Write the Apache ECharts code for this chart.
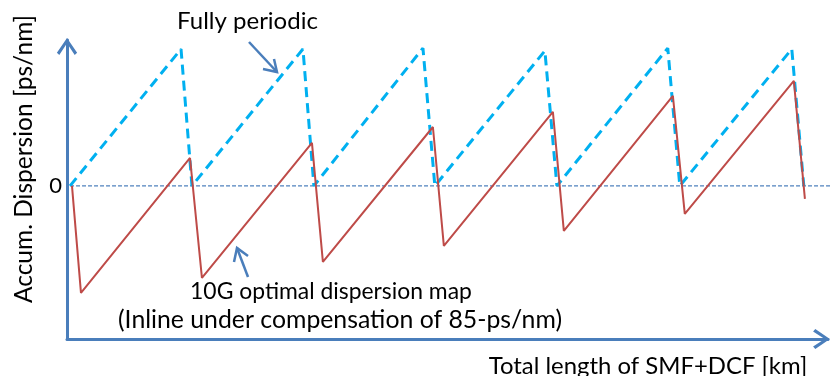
<!DOCTYPE html>
<html><head><meta charset="utf-8">
<script src="https://cdn.jsdelivr.net/npm/echarts@6/dist/echarts.min.js"></script>
<style>html,body{margin:0;padding:0;background:#fff}#c{width:834px;height:376px}</style>
</head><body><div id="c"></div>
<script>
// Fully periodic map (blue dashed): x in km, y in ps/nm
const periodicX = [2.5, 93.8, 102.8, 194.1, 203.1, 292.8, 302.6, 393.1, 403.0, 494.2, 504.1, 596.2, 606.1];
const periodicY = [0, 760, 0, 760, 0, 765, 0, 750, 0, 765, 0, 760, 0];
// 10G optimal dispersion map (red solid)
const optimalX = [4.1, 11.5, 101.2, 111.0, 201.5, 210.5, 301.0, 310.0, 399.7, 408.7, 498.4, 508.2, 597.9, 607.0];
const optimalY = [0, -594, 155, -511, 239, -422, 327, -333, 411, -250, 500, -155, 583, -72];
// zero reference line
const zeroX = [2.5, 630.6];
const zeroY = [0, 0];
const yTickLabels = { 0: '0' };

const FONT = 'Lato, "Open Sans", sans-serif';
function fitSize(text, width) {
  const c = document.createElement('canvas').getContext('2d');
  c.font = '100px ' + FONT;
  return Math.round(100 * width / c.measureText(text).width * 10) / 10;
}
const pair = (xs, ys) => xs.map((x, i) => [x, ys[i]]);
const chevron = 'path://M10,0 L20,14.6 L17.6,16.8 L10,5.2 L2.4,16.8 L0,14.6 Z';
const axisBlue = '#4A7EBB';

const chart = echarts.init(document.getElementById('c'), null, { renderer: 'canvas' });

function txt(text, x, y, width, rotation) {
  return {
    type: 'text', x: x, y: y, rotation: rotation || 0, silent: true,
    style: { text: text, fill: '#000', font: fitSize(text, width) + 'px ' + FONT, align: 'center', verticalAlign: 'middle' }
  };
}
function arrow(tail, tip, a1, a2) {
  return [
    { type: 'polyline', shape: { points: [tail, tip] }, style: { stroke: axisBlue, lineWidth: 2.5, fill: null }, silent: true },
    { type: 'polyline', shape: { points: [a1, tip, a2] }, style: { stroke: axisBlue, lineWidth: 2.5, fill: null, lineJoin: 'miter' }, silent: true }
  ];
}

chart.setOption({
  animation: false,
  grid: { left: 67, right: 6, top: 40, bottom: 37 },
  xAxis: {
    type: 'value', min: 0, max: 626,
    axisLine: { show: true, onZero: false, symbol: ['none', chevron], symbolSize: [20, 17], symbolOffset: [0, -6.5],
      lineStyle: { color: axisBlue, width: 3 } },
    axisTick: { show: false }, axisLabel: { show: false }, splitLine: { show: false }
  },
  yAxis: {
    type: 'value', min: -850, max: 810, interval: 850,
    axisLine: { show: true, onZero: false, symbol: ['none', chevron], symbolSize: [21, 17], symbolOffset: [0, -6.5],
      lineStyle: { color: axisBlue, width: 3 } },
    axisTick: { show: false }, splitLine: { show: false },
    axisLabel: { show: true, margin: 5, color: '#000', fontSize: 22, fontFamily: FONT,
      formatter: v => (yTickLabels[v] !== undefined ? yTickLabels[v] : '') }
  },
  series: [
    { name: 'zero', type: 'line', data: pair(zeroX, zeroY), showSymbol: false, clip: false, z: 1,
      lineStyle: { color: '#4F81BD', width: 1.3, type: [4, 2] } },
    { name: 'Fully periodic', type: 'line', data: pair(periodicX, periodicY), showSymbol: false, clip: false, z: 2,
      lineStyle: { color: '#00B0F0', width: 3, type: [10, 6] } },
    { name: '10G optimal dispersion map', type: 'line', data: pair(optimalX, optimalY), showSymbol: false, clip: false, z: 3,
      lineStyle: { color: '#BE4B48', width: 2 } }
  ],
  graphic: [
    txt('Fully periodic', 247.5, 21, 141),
    txt('10G optimal dispersion map', 331, 292, 282),
    txt('(Inline under compensation of 85-ps/nm)', 340, 320, 444),
    txt('Total length of SMF+DCF [km]', 648, 366, 319),
    txt('Accum. Dispersion [ps/nm]', 24, 159, 288, Math.PI / 2),
    ...arrow([249, 42], [277, 72], [263, 69], [274, 59]),
    ...arrow([248, 277], [237, 248], [234, 262], [248, 256])
  ]
});
</script></body></html>
